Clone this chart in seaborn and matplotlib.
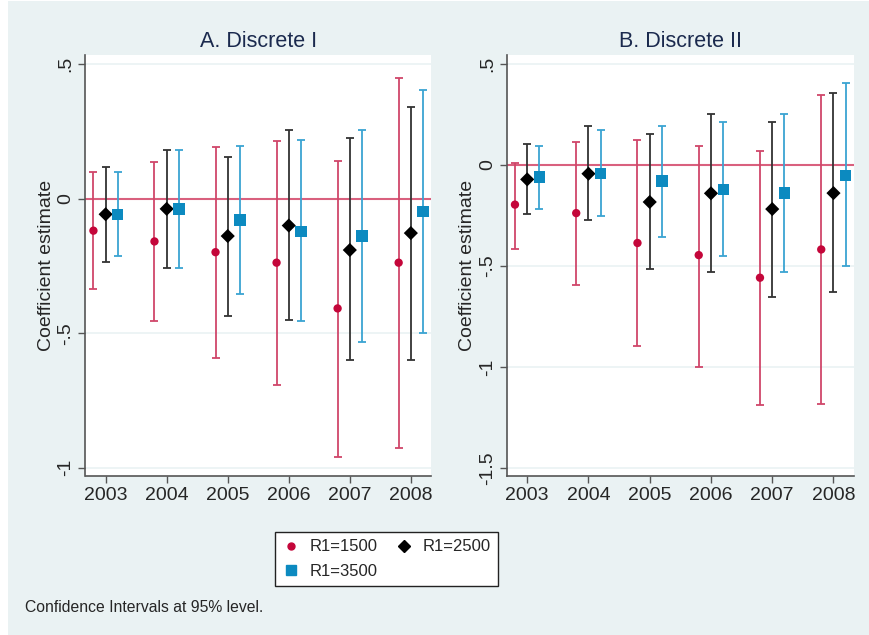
import numpy as np
import pandas as pd
import matplotlib
matplotlib.use("Agg")
import matplotlib.pyplot as plt
from matplotlib.lines import Line2D
from matplotlib.patches import Rectangle
import seaborn as sns

# values
years = [2003, 2004, 2005, 2006, 2007, 2008]
groups = ["R1=1500", "R1=2500", "R1=3500"]

a_1500 = [-0.119, -0.159, -0.199, -0.238, -0.408, -0.238]
a_1500_lo = [-0.337, -0.455, -0.593, -0.691, -0.959, -0.928]
a_1500_hi = [0.098, 0.135, 0.192, 0.213, 0.139, 0.449]
a_2500 = [-0.058, -0.038, -0.139, -0.100, -0.191, -0.128]
a_2500_lo = [-0.237, -0.256, -0.435, -0.452, -0.600, -0.600]
a_2500_hi = [0.119, 0.179, 0.154, 0.255, 0.224, 0.341]
a_3500 = [-0.058, -0.038, -0.079, -0.123, -0.139, -0.048]
a_3500_lo = [-0.214, -0.256, -0.354, -0.455, -0.532, -0.500]
a_3500_hi = [0.098, 0.179, 0.195, 0.217, 0.255, 0.403]

b_1500 = [-0.196, -0.238, -0.386, -0.446, -0.558, -0.418]
b_1500_lo = [-0.418, -0.592, -0.898, -1.000, -1.188, -1.185]
b_1500_hi = [0.012, 0.116, 0.122, 0.096, 0.069, 0.348]
b_2500 = [-0.071, -0.043, -0.183, -0.140, -0.218, -0.139]
b_2500_lo = [-0.244, -0.274, -0.515, -0.531, -0.652, -0.629]
b_2500_hi = [0.106, 0.195, 0.152, 0.254, 0.214, 0.355]
b_3500 = [-0.059, -0.043, -0.079, -0.120, -0.139, -0.051]
b_3500_lo = [-0.218, -0.254, -0.356, -0.452, -0.531, -0.500]
b_3500_hi = [0.096, 0.176, 0.195, 0.214, 0.254, 0.404]

a_ticks = [0.5, 0, -0.5, -1]
a_ticklabels = [".5", "0", "-.5", "-1"]
b_ticks = [0.5, 0, -0.5, -1, -1.5]
b_ticklabels = [".5", "0", "-.5", "-1", "-1.5"]

BG = "#EAF2F3"
colors = {"R1=1500": "#C4063A", "R1=2500": "#000000", "R1=3500": "#0C8AC0"}
ci_colors = {"R1=1500": "#D0466A", "R1=2500": "#333333", "R1=3500": "#3AA4D2"}
markers = {"R1=1500": "o", "R1=2500": "D", "R1=3500": "s"}
sizes = {"R1=1500": 36, "R1=2500": 52, "R1=3500": 66}
offsets = {"R1=1500": -0.2, "R1=2500": 0.0, "R1=3500": 0.2}


def build_frame(est, lo, hi):
    rows = []
    for g, e, l, h in zip(groups, est, lo, hi):
        for y, ev, lv, hv in zip(years, e, l, h):
            rows.append({"year": y, "group": g, "est": ev, "lo": lv, "hi": hv,
                         "x": y + offsets[g]})
    return pd.DataFrame(rows)


panel_a = build_frame([a_1500, a_2500, a_3500],
                      [a_1500_lo, a_2500_lo, a_3500_lo],
                      [a_1500_hi, a_2500_hi, a_3500_hi])
panel_b = build_frame([b_1500, b_2500, b_3500],
                      [b_1500_lo, b_2500_lo, b_3500_lo],
                      [b_1500_hi, b_2500_hi, b_3500_hi])

sns.set_style("white")
plt.rcParams["font.family"] = ["Liberation Sans", "DejaVu Sans"]

fig = plt.figure(figsize=(8.7, 6.35), dpi=100, facecolor="white")
fig.patches.append(Rectangle((8 / 870, 0), 1, 1 - 1 / 635, transform=fig.transFigure,
                             facecolor=BG, edgecolor="none", zorder=-10))

ax_a = fig.add_axes([85.5 / 870, 1 - 476 / 635, 345.5 / 870, 421 / 635])
ax_b = fig.add_axes([507 / 870, 1 - 476 / 635, 346.7 / 870, 421 / 635])


def draw_panel(ax, df, title, ylim, ticks, ticklabels):
    ax.set_facecolor("white")
    for t in ticks:
        if t != 0:
            ax.axhline(t, color=BG, lw=1.2, zorder=0)
    ax.axhline(0, color="#D9607E", lw=1.5, zorder=1)
    for g in groups:
        sub = df[df["group"] == g]
        ax.errorbar(sub["x"], sub["est"],
                    yerr=[sub["est"] - sub["lo"], sub["hi"] - sub["est"]],
                    fmt="none", ecolor=ci_colors[g], elinewidth=1.3,
                    capsize=2.9, capthick=1.3, zorder=2)
    for g in groups:
        sub = df[df["group"] == g]
        sns.scatterplot(data=sub, x="x", y="est", ax=ax, color=colors[g],
                        marker=markers[g], s=sizes[g], edgecolor="none",
                        linewidth=0, legend=False, zorder=3)
    ax.set_xlim(2002.67, 2008.33)
    ax.set_ylim(*ylim)
    ax.set_xticks(years)
    ax.set_xticklabels([str(y) for y in years], fontsize=14)
    ax.set_yticks(ticks)
    ax.set_yticklabels(ticklabels, fontsize=14, rotation=90, va="center")
    ax.set_xlabel("")
    ax.set_ylabel("Coefficient estimate", fontsize=14, labelpad=2)
    ax.set_title(title, fontsize=15.5, color="#1B2A4E", pad=6)
    for side in ["top", "right"]:
        ax.spines[side].set_visible(False)
    for side in ["left", "bottom"]:
        ax.spines[side].set_color("#555555")
        ax.spines[side].set_linewidth(1.2)
    ax.tick_params(axis="both", direction="out", length=5, width=1,
                   color="#555555", pad=3, left=True, bottom=True)


draw_panel(ax_a, panel_a, "A. Discrete I", (-1.031, 0.534), a_ticks, a_ticklabels)
draw_panel(ax_b, panel_b, "B. Discrete II", (-1.540, 0.545), b_ticks, b_ticklabels)

handles = [
    Line2D([], [], ls="none", marker="o", color=colors["R1=1500"], markersize=5),
    Line2D([], [], ls="none", marker="s", color=colors["R1=3500"], markersize=6.5),
    Line2D([], [], ls="none", marker="D", color=colors["R1=2500"], markersize=6),
]
labels = ["R1=1500", "R1=3500", "R1=2500"]
leg = fig.legend(handles, labels, loc="center", bbox_to_anchor=(386.5 / 870, 1 - 559 / 635),
                 ncol=2, fontsize=12, frameon=True, fancybox=False,
                 edgecolor="#222222", facecolor="white", framealpha=1,
                 columnspacing=1.1, handletextpad=0.6, borderpad=0.45,
                 labelspacing=0.55, handlelength=1.0)
leg.get_frame().set_linewidth(1.0)

fig.text(25 / 870, 1 - 608 / 635, "Confidence Intervals at 95% level.",
         fontsize=11.3, va="center", ha="left")

fig.savefig("out.png", dpi=100, facecolor=fig.get_facecolor())
